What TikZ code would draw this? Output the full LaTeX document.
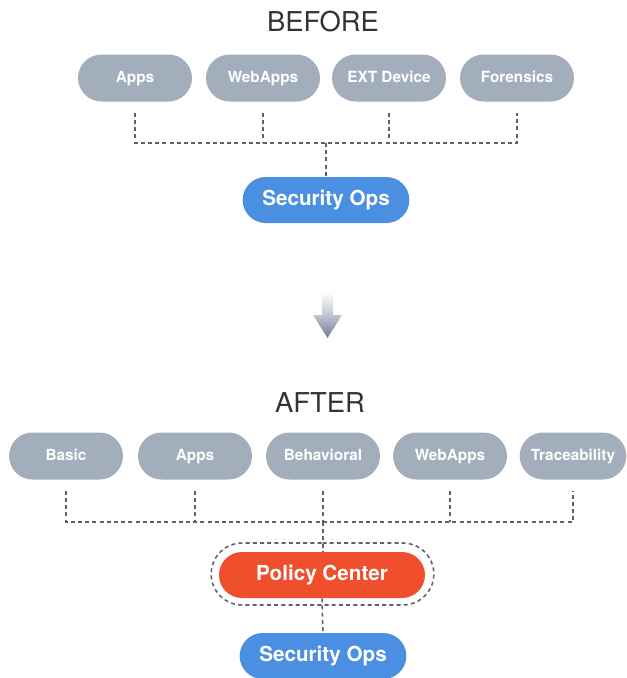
\documentclass[tikz,border=0pt]{standalone}
\usepackage{fontspec}
\setmainfont{TeX Gyre Heros}
\usepackage{tikz}
\usetikzlibrary{shapes.misc}
\usepackage{xcolor}

\definecolor{tagGray}{HTML}{A3AEBD}
\definecolor{opsBlue}{HTML}{4A8FE2}
\definecolor{policyRed}{HTML}{F04F2E}
\definecolor{busGray}{HTML}{5E6168}
\definecolor{titleInk}{HTML}{333333}
\definecolor{arrowInk}{HTML}{767B95}

\tikzset{
  pill/.style={rounded rectangle, inner sep=0pt, text=white, font=\bfseries},
  tag/.style={pill, fill=tagGray, minimum width=85.5pt, minimum height=35.25pt,
    text height=8.5pt, text depth=2.5pt,
    font=\fontsize{11.5}{13}\selectfont\bfseries},
  ops/.style={pill, fill=opsBlue, minimum width=125pt, minimum height=34.5pt,
    text height=11.5pt, text depth=3.5pt,
    font=\fontsize{15.5}{18}\selectfont\bfseries},
  policy/.style={pill, fill=policyRed, minimum width=154.5pt, minimum height=34.5pt,
    text height=11.5pt, text depth=3.5pt,
    font=\fontsize{15.5}{18}\selectfont\bfseries},
  ring/.style={rounded rectangle, inner sep=0pt, minimum width=167pt, minimum height=46.5pt},
  heading/.style={text=titleInk, inner sep=0pt, font=\fontsize{20.5}{24}\selectfont},
  bus/.style={draw=busGray, line width=1.15pt, dash pattern=on 3pt off 2.4pt},
}

\begin{document}
\begin{tikzpicture}[x=0.75pt,y=0.75pt,yscale=-1,xscale=1]
\useasboundingbox (0,0) rectangle (627,678);

% Before
\node [heading] (before) at (323,22) {BEFORE};
\node [tag] (appsB) at (135,78) {Apps};
\node [tag] (webB) at (263,78) {WebApps};
\node [tag] (extB) at (389,78) {EXT Device};
\node [tag] (forenB) at (517,78) {Forensics};
\node [ops] (opsB) at (326,200) {Security Ops};
\coordinate (busB) at (326,143);

\draw [bus, shorten <=8.25pt, shorten >=8.25pt] (appsB.south) -- (appsB.south |- busB) -- (forenB.south |- busB) -- (forenB.south);
\draw [bus, shorten <=8.25pt] (webB.south) -- (webB.south |- busB);
\draw [bus, shorten <=8.25pt] (extB.south) -- (extB.south |- busB);
\draw [bus] (busB) -- (opsB.north);

% Arrow
\shade [top color=white, bottom color=arrowInk, middle color=arrowInk!45] (322,292) -- (333,292) -- (333,315) -- (342,315) -- (327.5,338) -- (313,315) -- (322,315) -- cycle;

% After
\node [heading] (after) at (320,402.5) {AFTER};
\node [tag] (basicA) at (66,456) {Basic};
\node [tag] (appsA) at (195,456) {Apps};
\node [tag] (behavA) at (323,456) {Behavioral};
\node [tag] (webA) at (450,456) {WebApps};
\node [tag, minimum width=80pt] (traceA) at (573,456) {Traceability};
\node [policy] (policyA) at (322,575) {Policy Center};
\node [bus, ring] (ringA) at (322.5,574) {};
\node [ops] (opsA) at (323,656) {Security Ops};
\coordinate (busA) at (323,522);

\draw [bus, shorten <=8.25pt, shorten >=8.25pt] (basicA.south) -- (basicA.south |- busA) -- (traceA.south |- busA) -- (traceA.south);
\draw [bus, shorten <=8.25pt] (appsA.south) -- (appsA.south |- busA);
\draw [bus, shorten <=8.25pt] (behavA.south) -- (behavA.south |- busA);
\draw [bus, shorten <=8.25pt] (webA.south) -- (webA.south |- busA);
\draw [bus] (busA) -- (busA |- policyA.north);
\draw [bus] (policyA.south) -- (opsA.north);

\end{tikzpicture}
\end{document}
